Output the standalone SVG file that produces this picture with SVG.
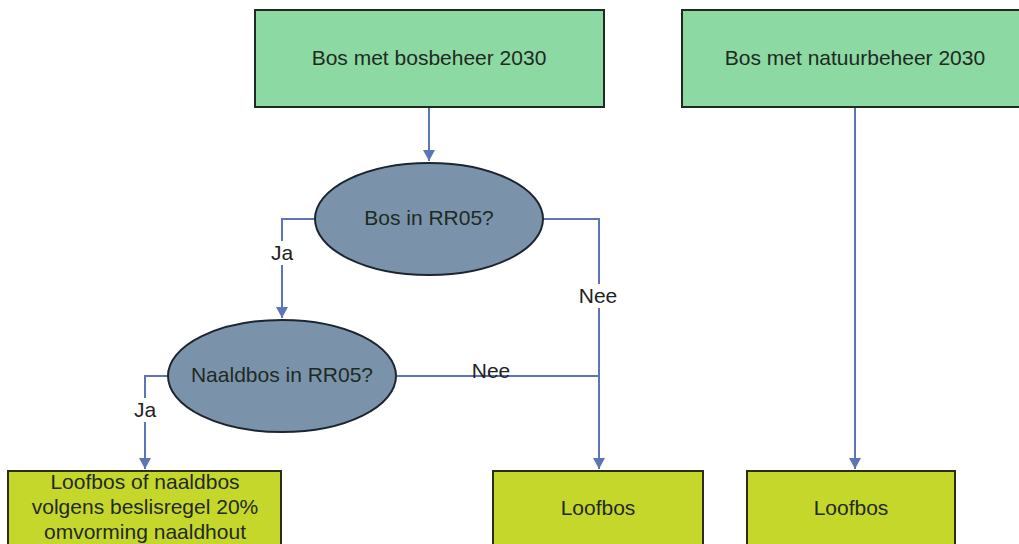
<svg xmlns="http://www.w3.org/2000/svg" width="1019" height="544" viewBox="0 0 1019 544">
<style>
  .box1{fill:#8CD9A3;stroke:#1f2a22;stroke-width:2}
  .box2{fill:#C6D72B;stroke:#2a2d10;stroke-width:2}
  .ell{fill:#7B93AA;stroke:#1d2530;stroke-width:2}
  .t{font-family:"Liberation Sans",Arial,sans-serif;font-size:21px;fill:#1e2a22;text-anchor:middle}
  .c{fill:none;stroke:#5B76B6;stroke-width:2}
  .lbl{font-family:"Liberation Sans",Arial,sans-serif;font-size:21px;fill:#222;text-anchor:middle}
  .bg{fill:#fff}
</style>
<defs>
  <marker id="ad" markerWidth="12" markerHeight="12" refX="6" refY="11" markerUnits="userSpaceOnUse" viewBox="0 0 12 12">
    <path d="M0,0 L12,0 L6,11 Z" fill="#5B76B6"/>
  </marker>
</defs>
<rect width="1019" height="544" fill="#fff"/>
<g id="connectors">
  <path class="c" d="M429,107 L429,161" marker-end="url(#ad)"/>
  <path class="c" d="M543,219 L599,219 L599,469" marker-end="url(#ad)"/>
  <path class="c" d="M315,219 L282,219 L282,318" marker-end="url(#ad)"/>
  <path class="c" d="M397,376 L599,376"/>
  <path class="c" d="M168,376 L145,376 L145,469" marker-end="url(#ad)"/>
  <path class="c" d="M855,107 L855,469" marker-end="url(#ad)"/>
  <rect class="bg" x="577" y="284" width="42" height="24"/>
  <text class="lbl" x="598" y="303">Nee</text>
  <rect class="bg" x="269" y="241" width="26" height="24"/>
  <text class="lbl" x="282" y="260">Ja</text>
  <text class="lbl" x="491" y="378">Nee</text>
  <rect class="bg" x="132" y="398" width="26" height="24"/>
  <text class="lbl" x="145" y="417">Ja</text>
</g>
<g id="n_bosbeheer">
  <rect class="box1" x="255" y="10" width="349" height="97"/>
  <text class="t" x="429" y="65">Bos met bosbeheer 2030</text>
</g>
<g id="n_natuurbeheer">
  <rect class="box1" x="682" y="10" width="345" height="97"/>
  <text class="t" x="855" y="65">Bos met natuurbeheer 2030</text>
</g>
<g id="n_bos_rr05">
  <ellipse class="ell" cx="429" cy="219" rx="114" ry="56"/>
  <text class="t" x="429" y="225">Bos in RR05?</text>
</g>
<g id="n_naaldbos_rr05">
  <ellipse class="ell" cx="282" cy="376" rx="114" ry="56"/>
  <text class="t" x="282" y="382">Naaldbos in RR05?</text>
</g>
<g id="n_loofbos_naaldbos">
  <rect class="box2" x="8" y="471" width="273" height="90"/>
  <text class="t" x="145" y="489">Loofbos of naaldbos</text>
  <text class="t" x="145" y="514">volgens beslisregel 20%</text>
  <text class="t" x="145" y="539">omvorming naaldhout</text>
</g>
<g id="n_loofbos1">
  <rect class="box2" x="493" y="471" width="210" height="90"/>
  <text class="t" x="598" y="515">Loofbos</text>
</g>
<g id="n_loofbos2">
  <rect class="box2" x="747" y="471" width="208" height="90"/>
  <text class="t" x="851" y="515">Loofbos</text>
</g>
</svg>
